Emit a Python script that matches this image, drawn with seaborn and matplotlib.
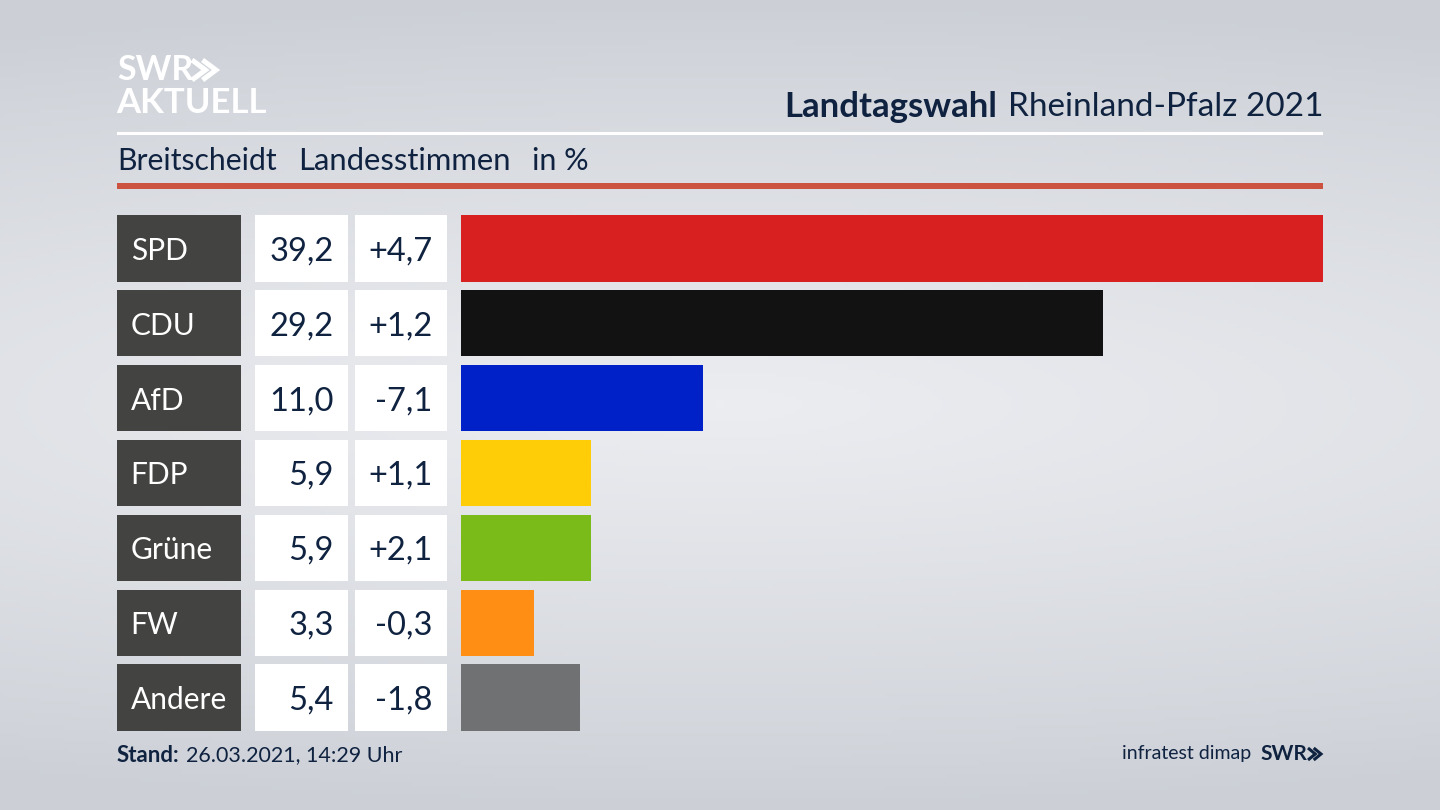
import numpy as np
import pandas as pd
import matplotlib
matplotlib.use("Agg")
import matplotlib.pyplot as plt
from matplotlib.lines import Line2D
import seaborn as sns

sns.set_theme(style="white")
plt.rcParams['font.family'] = ['Lato', 'DejaVu Sans']

# data
parties = ["SPD", "CDU", "AfD", "FDP", "Grüne", "FW", "Andere"]
shares = [39.2, 29.2, 11.0, 5.9, 5.9, 3.3, 5.4]
share_labels = ["39,2", "29,2", "11,0", "5,9", "5,9", "3,3", "5,4"]
change_labels = ["+4,7", "+1,2", "-7,1", "+1,1", "+2,1", "-0,3", "-1,8"]
bar_colors = ["#d7201f", "#121212", "#0021c8", "#ffcd07", "#7abb1a", "#ff8e14", "#707173"]

W, H = 1440, 810
NAVY = "#0f2240"
ROW_TOP, ROW_BOTTOM = 215, 731
BAR_FRAC = 0.888

fig = plt.figure(figsize=(W / 100, H / 100), dpi=100)


def px_axes(x0, y0, x1, y1):
    return fig.add_axes([x0 / W, 1 - y1 / H, (x1 - x0) / W, (y1 - y0) / H])


def px_text(x, y, s, **kw):
    kw.setdefault("color", NAVY)
    kw.setdefault("va", "center")
    return fig.text(x / W, 1 - y / H, s, **kw)


# the two arrows of the logo
def chevrons(x0, x1, y0, y1, color, lw):
    w = (x1 - x0) * 0.56
    for start in (x0, x1 - w):
        xs = np.array([start, start + w, start]) / W
        ys = 1 - np.array([y0, (y0 + y1) / 2, y1]) / H
        fig.add_artist(Line2D(xs, ys, color=color, lw=lw, solid_joinstyle="miter",
                              solid_capstyle="butt", transform=fig.transFigure, zorder=5))


# background
bg = px_axes(0, 0, W, H)
yy, xx = np.mgrid[0:1:200j, 0:1:356j]
r = np.sqrt(((xx - 0.5) / 1.3) ** 2 + ((yy - 0.5) / 0.5) ** 2)
shade = np.clip(1 - r, 0, 1) ** 0.9
dark = np.array([0.80, 0.815, 0.84])
light = np.array([0.925, 0.93, 0.945])
bg.imshow(dark + (light - dark) * shade[..., None], aspect="auto")
bg.axis("off")


def column(x0, x1, values, colors, labels=None, label_x=None, ha="right", text_color=NAVY, size=23.5):
    ax = px_axes(x0, ROW_TOP, x1, ROW_BOTTOM)
    df = pd.DataFrame({"party": parties, "value": values})
    sns.barplot(data=df, x="value", y="party", hue="party", palette=colors, legend=False,
                width=BAR_FRAC, saturation=1, linewidth=0, ax=ax)
    ax.set_xlim(0, max(values))
    ax.set_ylim(len(parties) - 1 + BAR_FRAC / 2, -BAR_FRAC / 2)
    ax.axis("off")
    ax.patch.set_alpha(0)
    if labels:
        for i, lab in enumerate(labels):
            ax.text(label_x, i, lab, transform=ax.get_yaxis_transform(), ha=ha,
                    va="center_baseline", fontsize=size, color=text_color)
    return ax


column(117, 241, [1] * 7, ["#434341"] * 7, parties, 0.11, "left", "white", 21.5)
column(255, 348, [1] * 7, ["white"] * 7, share_labels, 0.845)
column(355, 447, [1] * 7, ["white"] * 7, change_labels, 0.845)
column(461, 1323, shares, bar_colors)

# header
px_text(117, 70, "SWR", color="white", fontsize=24.5, fontweight="bold")
chevrons(192, 216, 60, 80, "white", 3.6)
px_text(116, 103, "AKTUELL", color="white", fontsize=25, fontweight="bold")

px_text(1323, 107, "Rheinland-Pfalz 2021", ha="right", fontsize=24)
px_text(997, 107, "Landtagswahl", ha="right", fontsize=25, fontweight="bold")

px_text(117, 161, "Breitscheidt", fontsize=21.7)
px_text(298, 161, "Landesstimmen", fontsize=22.3)
px_text(532, 161, "in %", fontsize=22)

rule = px_axes(117, 132, 1323, 135)
rule.set_facecolor("white")
rule.set_xticks([])
rule.set_yticks([])
sns.despine(ax=rule, left=True, bottom=True)

rule2 = px_axes(117, 183, 1323, 189)
rule2.set_facecolor("#cb5340")
rule2.set_xticks([])
rule2.set_yticks([])
sns.despine(ax=rule2, left=True, bottom=True)

# footer
px_text(117, 755, "Stand:", fontsize=16, fontweight="bold")
px_text(186, 755, "26.03.2021, 14:29 Uhr", fontsize=15.5)
px_text(1251, 754, "infratest dimap", ha="right", fontsize=14)
px_text(1307, 754, "SWR", ha="right", fontsize=15, fontweight="bold")
chevrons(1308, 1321, 748, 760, NAVY, 2.2)

fig.savefig("out.png", dpi=100)
